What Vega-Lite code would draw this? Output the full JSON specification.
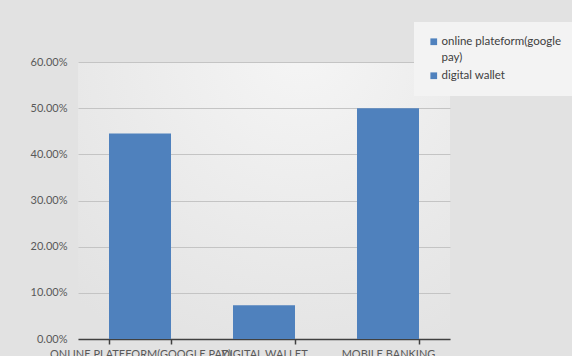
{
  "$schema": "https://vega.github.io/schema/vega-lite/v6.json",
  "width": 372,
  "height": 277,
  "autosize": "none",
  "padding": {"left": 78, "top": 62, "right": 122, "bottom": 17},
  "background": "#e2e2e2",
  "view": {"stroke": null, "fill": {"gradient": "radial", "x1": 0.6, "y1": 0.1, "r1": 0, "x2": 0.6, "y2": 0.1, "r2": 0.9, "stops": [{"offset": 0, "color": "#f5f5f5"}, {"offset": 1, "color": "#e2e2e2"}]}},
  "config": {
    "font": "Lato",
    "axis": {"labelFont": "Lato", "labelColor": "#595959", "labelFontSize": 11},
    "legend": {"labelFont": "Lato", "labelColor": "#404040", "labelFontSize": 11.5}
  },
  "data": {
    "values": [
      {"category": "ONLINE PLATEFORM(GOOGLE PAY)", "value": 0.445, "series": "online plateform(google pay)"},
      {"category": "DIGITAL WALLET", "value": 0.073, "series": "digital wallet"},
      {"category": "MOBILE BANKING", "value": 0.5, "series": "mobile banking"}
    ]
  },
  "mark": {"type": "bar", "color": "#4f81bd"},
  "encoding": {
    "x": {
      "field": "category",
      "type": "nominal",
      "sort": null,
      "scale": {"paddingInner": 0.5, "paddingOuter": 0.25},
      "axis": {
        "title": null,
        "labelAngle": 0,
        "labelOverlap": false,
        "labelLimit": 0,
        "labelPadding": 4,
        "domainColor": "#404040",
        "domainWidth": 1.5,
        "tickColor": "#404040",
        "tickWidth": 1.5,
        "tickSize": 5,
        "tickBand": "extent",
        "grid": false
      }
    },
    "y": {
      "field": "value",
      "type": "quantitative",
      "scale": {"domain": [0, 0.6], "nice": false},
      "axis": {
        "title": null,
        "format": ".2%",
        "values": [0, 0.1, 0.2, 0.3, 0.4, 0.5, 0.6],
        "ticks": false,
        "domain": false,
        "labelPadding": 11,
        "gridColor": "#c4c4c4",
        "gridWidth": 1
      }
    },
    "color": {
      "field": "series",
      "type": "nominal",
      "scale": {"domain": ["online plateform(google pay)", "digital wallet", "mobile banking"], "range": ["#4f81bd", "#4f81bd", "#4f81bd"]},
      "legend": {
        "title": null,
        "values": ["online plateform(google pay)", "digital wallet"],
        "orient": "none",
        "legendX": 336,
        "legendY": -40,
        "symbolType": "square",
        "symbolSize": 45,
        "symbolStrokeWidth": 0,
        "symbolOpacity": 1,
        "labelOffset": 2,
        "rowPadding": 5,
        "fillColor": "#f3f3f3",
        "padding": 14,
        "labelExpr": "datum.label == 'online plateform(google pay)' ? ['online plateform(google', 'pay)'] : datum.label",
        "encode": {"labels": {"update": {"lineHeight": {"value": 16}}}}
      }
    }
  }
}
